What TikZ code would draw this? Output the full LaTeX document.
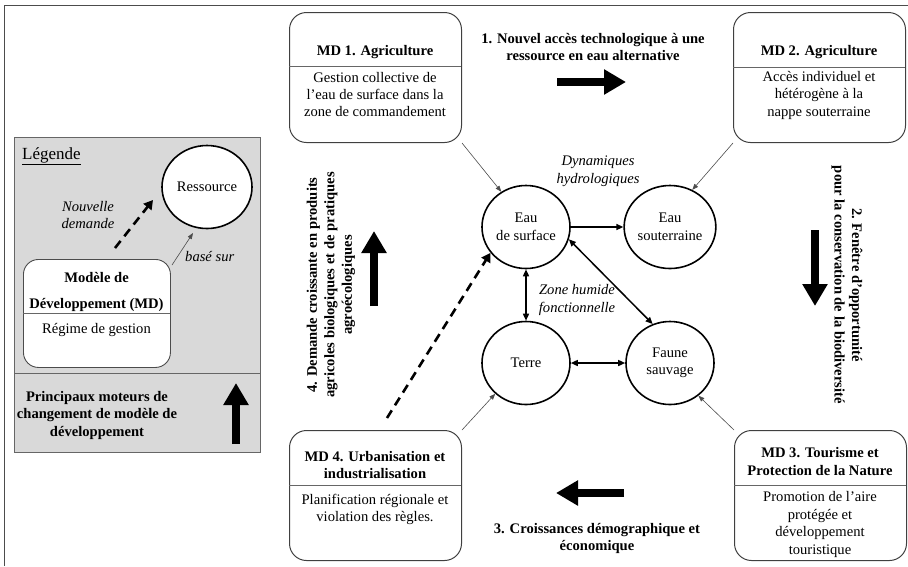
\documentclass[tikz,border=0pt]{standalone}
\usepackage{fontspec}
\setmainfont{Liberation Serif}
\usetikzlibrary{arrows.meta,shapes.geometric}
\newcommand\txtfont{\fontsize{14.6}{17.5}\selectfont}
\begin{document}
\begin{tikzpicture}[x=1pt,y=-1pt,
  every node/.style={inner sep=0pt, align=center, font=\txtfont},
  mdbox/.style={draw=black!75, line width=1pt, rounded corners=17pt, fill=white,
                minimum width=172pt, minimum height=130pt, anchor=north west},
  divider/.style={draw=black!60, line width=0.8pt},
  bold/.style={font=\txtfont\bfseries},
  lbl/.style={font=\txtfont\itshape},
  circ/.style={draw=black, line width=1.6pt, ellipse, minimum width=88pt, minimum height=83pt, fill=white},
  link/.style={line width=1.5pt, -{Triangle[length=7pt,width=6pt]}},
  blink/.style={line width=1.5pt, {Triangle[length=7pt,width=6pt]}-{Triangle[length=7pt,width=6pt]}},
  thinarrow/.style={draw=black!70, line width=0.6pt, -{Triangle[length=6pt,width=4.5pt]}},
  block/.style={line width=8pt, -{Triangle[length=22pt,width=24pt]}},
  dasharrow/.style={line width=2.6pt, dash pattern=on 9pt off 6pt, -{Triangle[length=9pt,width=10pt]}},
]
\useasboundingbox (0,0) rectangle (908,566);
% outer frame
\draw[black!70, line width=0.8pt] (908,5) -- (4,5) -- (4,566);

% ---------- Legend ----------
\node[draw=black!60, line width=0.8pt, fill={rgb,255:red,217;green,217;blue,217},
      minimum width=246pt, minimum height=315pt, anchor=north west] (legend) at (14,137) {};
\draw[divider] (14,373) -- (260,373);
\node[anchor=west, font=\fontsize{17}{19}\selectfont] (legtitle) at (22,156) {\underline{Légende}};
\node[circ, minimum width=90pt, minimum height=83pt] (res) at (207,187) {Ressource};
\node[lbl] (nouv) at (88,215) {Nouvelle\\demande};
\node[lbl, anchor=west] (base) at (185,257) {basé sur};
\node[draw=black!70, line width=0.9pt, rounded corners=15pt, fill=white,
      minimum width=147pt, minimum height=108pt, anchor=north west] (mdl) at (23,259) {};
\draw[divider] (23,313) -- (170,313);
\node[bold] (mdlt) at (96.5,292) {Modèle de\\[8.5pt]Développement (MD)};
\node (mdlb) at (96.5,330) {Régime de gestion};
\coordinate (nd1) at (115,248);
\coordinate (nd2) at (153,200);
\draw[dasharrow] (nd1) -- (nd2);
\coordinate (bs1) at (172,265);
\coordinate (bs2) at (193,233);
\draw[thinarrow] (bs1) -- (bs2);
\node[bold] (moteurs) at (97,415) {Principaux moteurs de\\changement de modèle de\\développement};
\coordinate (la1) at (236,444);
\coordinate (la2) at (236,383);
\draw[block] (la1) -- (la2);

% ---------- MD boxes ----------
\node[mdbox] (md1) at (289,12) {};
\draw[divider] (289,66) -- (461,66);
\node[bold] (md1t) at (375,52) {MD 1. Agriculture};
\node (md1b) at (375,94.5) {Gestion collective de\\l’eau de surface dans la\\zone de commandement};

\node[mdbox] (md2) at (733,12) {};
\draw[divider] (733,67) -- (905,67);
\node[bold] (md2t) at (819,52) {MD 2. Agriculture};
\node (md2b) at (819,95) {Accès individuel et\\hétérogène à la\\nappe souterraine};

\node[mdbox] (md4) at (289,430) {};
\draw[divider] (289,485) -- (461,485);
\node[bold] (md4t) at (375,465) {MD 4. Urbanisation et\\industrialisation};
\node (md4b) at (375,509.5) {Planification régionale et\\violation des règles.};

\node[mdbox] (md3) at (734,430) {};
\draw[divider] (734,485) -- (906,485);
\node[bold] (md3t) at (820,461.5) {MD 3. Tourisme et\\Protection de la Nature};
\node (md3b) at (820,524.5) {Promotion de l’aire\\protégée et\\développement\\touristique};

% ---------- Drivers ----------
\node[bold] (t1) at (593,47) {1. Nouvel accès technologique à une\\ressource en eau alternative};
\coordinate (a1s) at (557,82); \coordinate (a1e) at (626,82);
\draw[block] (a1s) -- (a1e);

\node[bold, rotate=-90] (t2) at (847,285) {2. Fenêtre d’opportunité\\pour la conservation de la biodiversité};
\coordinate (a2s) at (815,230); \coordinate (a2e) at (815,306);
\draw[block] (a2s) -- (a2e);

\node[bold] (t3) at (597,538.5) {3. Croissances démographique et\\économique};
\coordinate (a3s) at (624,493); \coordinate (a3e) at (556,493);
\draw[block] (a3s) -- (a3e);

\node[bold, rotate=90] (t4) at (331,285) {4. Demande croissante en produits\\agricoles biologiques et de pratiques\\agroécologiques};
\coordinate (a4s) at (374,306); \coordinate (a4e) at (374,231);
\draw[block] (a4s) -- (a4e);

% ---------- Resources ----------
\node[circ] (es) at (526,227) {Eau\\de surface};
\node[circ] (eso) at (670,227) {Eau\\souterraine};
\node[circ] (terre) at (526,363) {Terre};
\node[circ] (faune) at (670,363) {Faune\\sauvage};

\node[lbl] (dyn) at (598,171) {Dynamiques\\hydrologiques};
\node[lbl] (zone) at (577,300) {Zone humide\\fonctionnelle};

\draw[link] (es) -- (eso);
\draw[blink] (es) -- (terre);
\draw[blink] (terre) -- (faune);
\draw[blink] (es.-16) -- (faune.114);

\draw[thinarrow] (md1.south east) -- (es.125);
\draw[thinarrow] (md2.south west) -- (eso.59);
\draw[thinarrow] (md4.north east) -- (terre.-135);
\draw[thinarrow] (md3.north west) -- (faune.-49);

\coordinate (d4) at (387,418);
\draw[dasharrow] (d4) -- (es.-144);
\end{tikzpicture}
\end{document}
